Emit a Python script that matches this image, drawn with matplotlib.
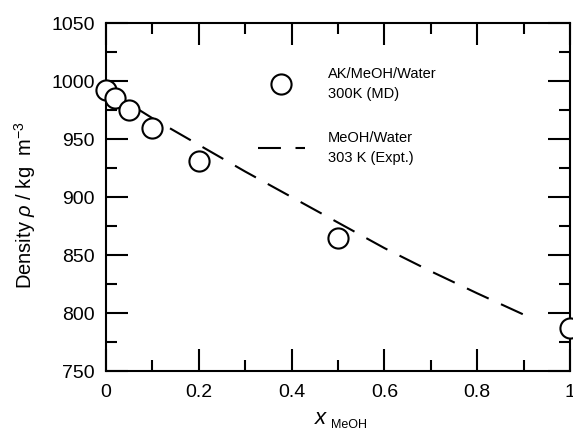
import matplotlib
matplotlib.use("Agg")
import matplotlib.pyplot as plt
from matplotlib.lines import Line2D
from matplotlib.ticker import MultipleLocator

plt.rcParams["font.family"] = ["Liberation Sans", "DejaVu Sans"]
plt.rcParams["mathtext.fontset"] = "custom"
plt.rcParams["mathtext.rm"] = "Liberation Sans"
plt.rcParams["mathtext.it"] = "Liberation Sans:italic"

# MD simulation points (AK/MeOH/Water, 300 K)
x_md = [0.0, 0.02, 0.05, 0.1, 0.2, 0.5, 1.0]
rho_md = [992, 985.5, 975, 959.5, 931.5, 865, 787]

# experimental MeOH/Water curve, 303 K
x_expt = [0.0, 0.1, 0.2, 0.3, 0.4, 0.5, 0.6, 0.7, 0.8, 0.92]
rho_expt = [993, 968, 945, 922, 900, 878, 856, 836, 817, 795]

xtick_vals = [0, 0.2, 0.4, 0.6, 0.8, 1.0]
xtick_labels = ["0", "0.2", "0.4", "0.6", "0.8", "1"]
ytick_vals = [750, 800, 850, 900, 950, 1000, 1050]

fig = plt.figure(figsize=(5.73, 4.28), dpi=100)
ax = fig.add_axes([0.185, 0.133, 0.810, 0.813])

dash = (11.5, 6.5)
ax.plot(x_expt, rho_expt, color="black", lw=1.5, dashes=dash)
ax.plot(x_md, rho_md, "o", ms=14.5, mfc="white", mec="black", mew=1.5,
        clip_on=False, zorder=3)

ax.set_xlim(0, 1)
ax.set_ylim(750, 1050)
ax.set_xticks(xtick_vals)
ax.set_xticklabels(xtick_labels)
ax.set_yticks(ytick_vals)
ax.xaxis.set_minor_locator(MultipleLocator(0.1))
ax.yaxis.set_minor_locator(MultipleLocator(25))

for s in ax.spines.values():
    s.set_linewidth(1.5)
ax.tick_params(which="both", direction="in", top=True, right=True,
               width=1.5, labelsize=14)
ax.tick_params(which="major", length=16)
ax.tick_params(which="minor", length=8)
ax.tick_params(axis="y", pad=8)
ax.tick_params(axis="x", pad=9)

# axis labels
ax.set_ylabel(r"Density $\rho$ / kg  m$^{-3}$", fontsize=14.5)
ax.yaxis.label.set_va("center")
ax.yaxis.set_label_coords(-0.175, 0.477)

ax.set_xlabel("x", fontsize=16, fontstyle="italic")
ax.xaxis.label.set_va("baseline")
ax.xaxis.set_label_coords(0.461, -0.152)
ax.annotate("MeOH", xy=(1, 0), xycoords=ax.xaxis.label, xytext=(4, 0.5),
            textcoords="offset points", va="baseline", ha="left", fontsize=9)

handles = [
    Line2D([], [], ls="none", marker="o", ms=14.5, mfc="white", mec="black", mew=1.5),
    Line2D([], [], color="black", lw=1.5, dashes=(11, 7)),
]
labels = ["AK/MeOH/Water\n300K (MD)", "MeOH/Water\n303 K (Expt.)"]
leg = fig.legend(handles, labels, loc="upper left", bbox_to_anchor=(0.450, 0.843),
                 frameon=False, fontsize=10.5, handlelength=3.2, handletextpad=1.6,
                 labelspacing=2.1, borderpad=0, borderaxespad=0)
for t in leg.get_texts():
    t.set_linespacing(1.5)

fig.savefig("out.png", dpi=100)
